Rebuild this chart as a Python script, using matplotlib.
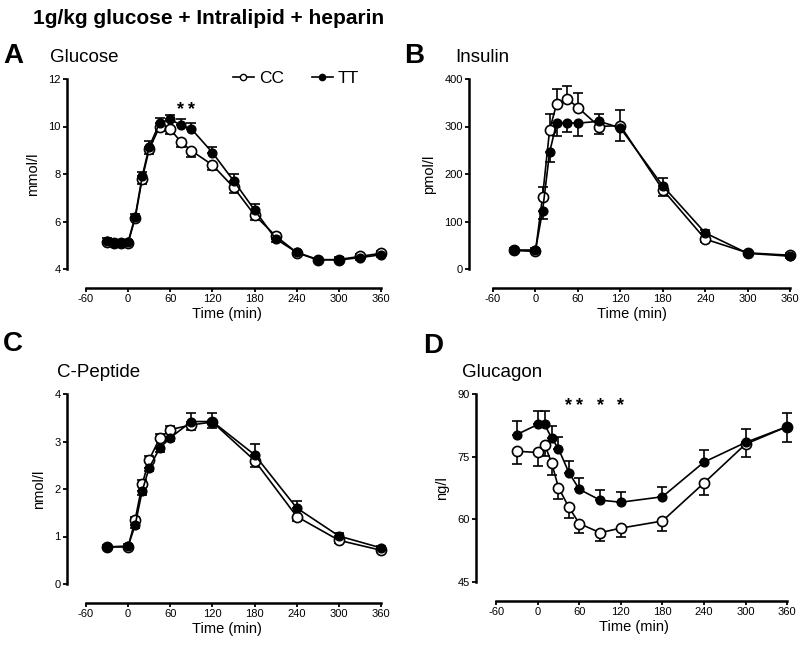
import numpy as np
import matplotlib
matplotlib.use("Agg")
import matplotlib.pyplot as plt
from matplotlib.lines import Line2D

plt.rcParams['font.family'] = ['Liberation Sans', 'DejaVu Sans']
plt.rcParams['axes.unicode_minus'] = False

# time points (min)
t_glucose = [-30, -20, -10, 0, 10, 20, 30, 45, 60, 75, 90, 120, 150, 180, 210, 240, 270, 300, 330, 360]
t_hormone = [-30, 0, 10, 20, 30, 45, 60, 90, 120, 180, 240, 300, 360]

# A: glucose (mmol/l)
glu_cc = [5.15, 5.1, 5.1, 5.1, 6.15, 7.8, 9.05, 10.0, 9.88, 9.36, 8.98, 8.38, 7.44, 6.27, 5.39, 4.69, 4.38, 4.4, 4.53, 4.66]
glu_cc_err = [0.1, 0.08, 0.08, 0.08, 0.1, 0.2, 0.2, 0.2, 0.2, 0.23, 0.25, 0.2, 0.22, 0.2, 0.12, 0.1, 0.08, 0.1, 0.1, 0.1]
glu_tt = [5.2, 5.1, 5.1, 5.15, 6.2, 7.9, 9.15, 10.16, 10.3, 10.06, 9.9, 8.9, 7.72, 6.48, 5.27, 4.7, 4.4, 4.38, 4.48, 4.6]
glu_tt_err = [0.1, 0.08, 0.08, 0.08, 0.12, 0.2, 0.22, 0.2, 0.2, 0.25, 0.26, 0.25, 0.27, 0.25, 0.12, 0.12, 0.08, 0.08, 0.1, 0.1]

# B: insulin (pmol/l)
ins_cc = [39, 37, 152, 293, 348, 358, 340, 300, 302, 167, 63, 34, 29]
ins_cc_err = [4, 4, 20, 34, 32, 27, 30, 15, 33, 14, 6, 4, 4]
ins_tt = [40, 40, 122, 246, 308, 308, 307, 311, 297, 175, 76, 33, 27]
ins_tt_err = [4, 4, 17, 20, 28, 20, 26, 15, 27, 16, 6, 4, 4]

# C: C-peptide (nmol/l)
cp_cc = [0.78, 0.78, 1.35, 2.1, 2.62, 3.07, 3.25, 3.35, 3.41, 2.6, 1.42, 0.92, 0.71]
cp_cc_err = [0.04, 0.04, 0.07, 0.08, 0.08, 0.08, 0.07, 0.1, 0.13, 0.13, 0.09, 0.05, 0.04]
cp_tt = [0.78, 0.8, 1.24, 1.96, 2.45, 2.86, 3.08, 3.42, 3.42, 2.72, 1.6, 1.01, 0.76]
cp_tt_err = [0.04, 0.04, 0.07, 0.08, 0.08, 0.08, 0.07, 0.19, 0.19, 0.22, 0.15, 0.06, 0.04]

# D: glucagon (ng/l)
gcg_cc = [76.3, 76.0, 77.9, 73.6, 67.6, 62.9, 59.0, 56.8, 57.9, 59.6, 68.7, 78.0, 82.2]
gcg_cc_err = [3.0, 3.2, 2.8, 2.9, 2.8, 2.5, 2.2, 2.1, 2.2, 2.3, 2.9, 3.0, 3.6]
gcg_tt = [80.3, 82.7, 82.7, 79.5, 76.9, 71.2, 67.2, 64.6, 64.1, 65.4, 73.7, 78.4, 82.2]
gcg_tt_err = [3.2, 3.2, 3.2, 2.8, 2.8, 2.8, 2.7, 2.5, 2.5, 2.4, 2.8, 3.2, 3.2]

# significance stars
glu_star_t = [75, 90]
gcg_star_t = [45, 60, 90, 120]

W, H = 800, 648
fig = plt.figure(figsize=(W / 100, H / 100), dpi=100)


def px_axes(left, right, top, bottom):
    return fig.add_axes([left / W, 1 - bottom / H, (right - left) / W, (bottom - top) / H])


def one_sided(vals, errs, other, upper_on_tie):
    # the higher group gets its bar above, the lower one below
    vals = np.array(vals)
    other = np.array(other)
    errs = np.array(errs)
    up = vals > other if not upper_on_tie else vals >= other
    return [np.where(up, 0, errs), np.where(up, errs, 0)]


def panel(ax, t, cc, cc_err, tt, tt_err, ylim, yticks, ylabel, xleft):
    ax.errorbar(t, cc, yerr=one_sided(cc, cc_err, tt, False), color='black', lw=1.2,
                marker='o', ms=7.3, mfc='white', mec='black', mew=1.2,
                capsize=3.5, elinewidth=1.2, capthick=1.2, clip_on=False, zorder=3)
    ax.errorbar(t, tt, yerr=one_sided(tt, tt_err, cc, True), color='black', lw=1.2,
                marker='o', ms=6.3, mfc='black', mec='black',
                capsize=3.5, elinewidth=1.2, capthick=1.2, clip_on=False, zorder=4)
    ax.set_xlim(xleft, 367)
    ax.set_ylim(*ylim)
    ax.set_yticks(yticks)
    ax.set_xticks(range(-60, 361, 60))
    ax.spines['top'].set_visible(False)
    ax.spines['right'].set_visible(False)
    ax.spines['left'].set_linewidth(1.8)
    ax.spines['bottom'].set_linewidth(1.8)
    ax.spines['bottom'].set_position(('outward', 13.7))
    ax.spines['bottom'].set_bounds(-60, 360)
    ax.tick_params(axis='both', labelsize=8, width=1.3, length=3, pad=1.5)
    ax.set_ylabel(ylabel, fontsize=10.5, labelpad=6)
    ax.set_xlabel('Time (min)', fontsize=10.5, labelpad=2)
    ax.patch.set_visible(False)


axA = px_axes(67, 386, 79, 269)
panel(axA, t_glucose, glu_cc, glu_cc_err, glu_tt, glu_tt_err, (4, 12), [4, 6, 8, 10, 12], 'mmol/l', -87)
axB = px_axes(469, 795, 79, 269)
panel(axB, t_hormone, ins_cc, ins_cc_err, ins_tt, ins_tt_err, (0, 400), [0, 100, 200, 300, 400], 'pmol/l', -94)
axC = px_axes(67, 386, 394, 584)
panel(axC, t_hormone, cp_cc, cp_cc_err, cp_tt, cp_tt_err, (0, 4), [0, 1, 2, 3, 4], 'nmol/l', -87)
axD = px_axes(476, 792, 394, 582)
panel(axD, t_hormone, gcg_cc, gcg_cc_err, gcg_tt, gcg_tt_err, (45, 90), [45, 60, 75, 90], 'ng/l', -89)

for x in glu_star_t:
    axA.text(x, 10.7, '*', ha='center', va='center', fontsize=13, fontweight='bold')
for x in gcg_star_t:
    axD.text(x, 87.2, '*', ha='center', va='center', fontsize=13, fontweight='bold')

# legend
handles = [Line2D([], [], color='black', lw=1.2, marker='o', ms=4.5, mfc='white', mec='black'),
           Line2D([], [], color='black', lw=1.2, marker='o', ms=4.5, mfc='black', mec='black')]
axA.legend(handles, ['CC', 'TT'], ncol=2, frameon=False, fontsize=12.5, handlelength=1.2,
           handletextpad=0.3, columnspacing=1.6, loc='center', bbox_to_anchor=(296 / W, 1 - 78 / H),
           bbox_transform=fig.transFigure)

# titles and panel letters
fig.text(33 / W, 1 - 18 / H, '1g/kg glucose + Intralipid + heparin', fontsize=15, fontweight='bold',
         va='center', ha='left')
for letter, x, y in [('A', 3, 63), ('B', 404, 63), ('C', 3, 351), ('D', 423, 353)]:
    fig.text(x / W, 1 - y / H, letter, fontsize=20, fontweight='bold', va='baseline', ha='left')
for name, x, y in [('Glucose', 50, 62), ('Insulin', 455, 62), ('C-Peptide', 57, 377), ('Glucagon', 462, 377)]:
    fig.text(x / W, 1 - y / H, name, fontsize=13.5, va='baseline', ha='left')

fig.savefig('out.png', dpi=100, facecolor='white')
